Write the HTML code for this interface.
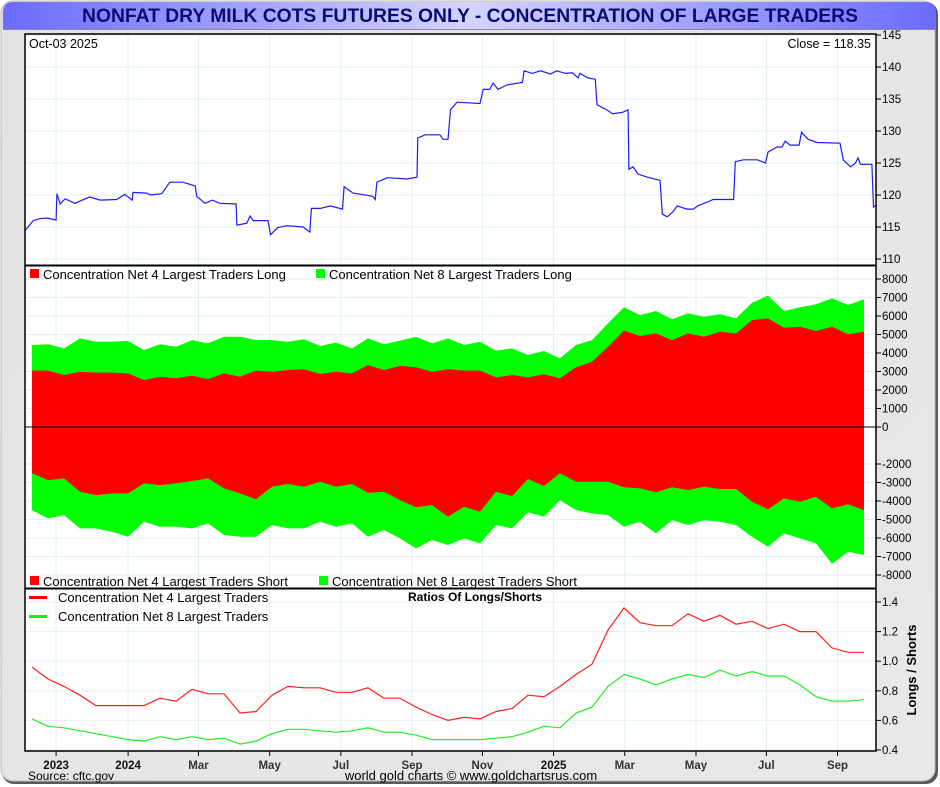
<!DOCTYPE html>
<html><head><meta charset="utf-8"><style>
html,body{margin:0;padding:0;background:#fff;}
svg{display:block;font-family:"Liberation Sans",sans-serif;}
</style></head><body>
<svg id="chart" width="940" height="787" viewBox="0 0 940 787" xmlns="http://www.w3.org/2000/svg">
<defs>
<linearGradient id="tg" x1="0" x2="1" y1="0" y2="0">
<stop offset="0" stop-color="#6b6bff"/><stop offset="0.5" stop-color="#d4d4ff"/><stop offset="1" stop-color="#6b6bff"/>
</linearGradient>
<linearGradient id="bg" x1="0" x2="1" y1="0" y2="1">
<stop offset="0" stop-color="#e2e2e2"/><stop offset="1" stop-color="#e8e8e8"/>
</linearGradient>
</defs>
<rect x="2" y="2" width="936" height="782" rx="12" fill="#5a5a5a"/>
<rect x="1" y="1" width="934" height="780" rx="12" fill="url(#bg)" stroke="#bbb"/>
<path d="M13 2 H925 Q936 2 936 13 V29 H3 V13 Q3 2 13 2 Z" fill="url(#tg)"/>
<line x1="3" y1="29.5" x2="936" y2="29.5" stroke="#8888aa"/>
<text x="470" y="22" text-anchor="middle" font-size="19.3" font-weight="bold" fill="#0c0c6e">NONFAT DRY MILK COTS FUTURES ONLY - CONCENTRATION OF LARGE TRADERS</text>
<rect x="25" y="34" width="851" height="717" fill="#fff"/>
<g id="grid"></g>
<g id="p2"></g>
<g id="p1"></g>
<g id="p3"></g>
<g id="axes"></g>
<text x="29" y="48" font-size="12.5" fill="#000">Oct-03  2025</text>
<text x="871" y="48" font-size="12.5" text-anchor="end" fill="#000">Close = 118.35</text>
<rect x="30" y="269" width="9" height="9" fill="#f00"/>
<text x="43" y="279" font-size="13">Concentration Net 4 Largest Traders Long</text>
<rect x="316" y="269" width="9" height="9" fill="#0f0"/>
<text x="329" y="279" font-size="13">Concentration Net 8 Largest Traders Long</text>
<rect x="30" y="576" width="9" height="9" fill="#f00"/>
<text x="43" y="586" font-size="13">Concentration Net 4 Largest Traders Short</text>
<rect x="319" y="576" width="9" height="9" fill="#0f0"/>
<text x="332" y="586" font-size="13">Concentration Net 8 Largest Traders Short</text>
<rect x="29" y="596" width="18" height="3" fill="#f00"/>
<text x="58" y="602" font-size="13">Concentration Net 4 Largest Traders</text>
<rect x="29" y="615" width="18" height="3" fill="#0f0"/>
<text x="58" y="621" font-size="13">Concentration Net 8 Largest Traders</text>
<text x="475" y="601" font-size="12" font-weight="bold" text-anchor="middle">Ratios Of Longs/Shorts</text>
<text transform="translate(916,670) rotate(-90)" font-size="13" font-weight="bold" text-anchor="middle">Longs / Shorts</text>
<text x="28" y="780" font-size="12">Source: cftc.gov</text>
<text x="471" y="780" font-size="13" text-anchor="middle">world gold charts © www.goldchartsrus.com</text>
</svg>
<script>
const priceWeeks=[0,1.0,1.8,2.7,3.8,3.9,4.3,4.9,6.1,7.9,9.2,11.2,12.2,13.1,13.2,14.9,15.3,16.7,17.7,19.3,20.8,21.0,22.0,22.9,23.8,25.8,25.9,27.1,27.5,27.9,29.7,30.0,30.9,32.0,34.0,34.8,35.0,36.1,37.3,38.8,39.0,40.1,42.5,42.8,43.0,44.3,46.7,47.9,48.0,48.9,50.7,51.1,51.7,52.0,52.8,55.6,56.0,56.8,57.2,57.8,58.9,60.8,61.0,62.0,63.0,64.2,65.0,66.0,66.9,67.6,67.8,68.8,69.7,69.9,71.1,71.8,73.0,73.7,73.8,74.3,74.9,76.0,77.6,77.9,78.5,79.2,79.7,80.9,81.7,82.2,83.4,84.1,86.6,86.8,87.8,89.5,90.5,90.8,91.9,92.5,92.9,93.5,94.6,94.9,95.7,96.8,99.6,100.0,100.9,101.5,101.8,102.1,103.5,103.7,103.9];
const priceValues=[114.4,116.0,116.3,116.4,116.1,120.2,118.6,119.4,118.7,119.7,119.2,119.3,120.1,119.2,120.4,120.3,120.0,120.2,122.0,122.0,121.4,119.8,118.7,119.2,118.7,118.6,115.3,115.6,116.7,116.0,116.0,113.8,114.9,115.2,115.0,114.2,117.9,117.9,118.3,117.8,121.3,120.3,119.8,119.3,122.0,122.7,122.5,122.8,128.9,129.4,129.4,128.7,128.7,133.3,134.5,134.3,136.5,136.5,137.5,136.5,137.2,137.6,139.4,139.0,139.4,138.9,139.4,139.0,139.1,138.3,139.0,138.3,138.1,134.1,133.3,132.7,132.9,133.3,124.0,124.4,123.3,122.8,122.3,117.0,116.6,117.4,118.3,117.8,117.8,118.3,118.9,119.3,119.3,125.2,125.5,125.5,125.0,126.7,127.5,127.5,128.4,127.8,127.8,129.8,128.7,128.2,128.1,125.5,124.4,125.0,125.8,124.8,124.8,118.1,118.35];
const long4=[3050,3050,2810,2990,2940,2940,2900,2540,2720,2630,2780,2590,2900,2720,3050,2990,3080,3120,2870,2990,2900,3350,3080,3300,3230,2990,3120,3050,3050,2680,2810,2680,2850,2630,3230,3530,4340,5210,4920,5060,4700,5060,4880,5150,5060,5780,5870,5370,5420,5190,5420,5010,5150];
const long8=[4430,4470,4250,4790,4610,4610,4650,4160,4470,4340,4700,4520,4880,4880,4700,4700,4610,4740,4380,4560,4250,4790,4470,4670,4880,4520,4790,4430,4610,4130,4250,3890,4110,3710,4430,4700,5600,6470,6050,6270,5820,6140,5960,6090,5870,6720,7100,6270,6470,6630,6960,6600,6900];
const short4=[-2500,-2870,-2780,-3500,-3680,-3590,-3590,-3050,-3140,-3050,-2920,-2780,-3320,-3590,-3910,-3230,-3080,-3230,-2960,-3230,-3080,-3550,-3500,-3950,-4340,-4220,-4850,-4310,-4580,-3500,-3730,-2810,-3190,-2500,-2960,-2960,-2960,-3260,-3320,-3530,-3260,-3410,-3230,-3350,-3350,-4040,-4450,-3860,-4040,-3770,-4400,-4180,-4490];
const short8=[-4490,-4940,-4760,-5480,-5480,-5660,-5930,-5120,-5390,-5390,-5480,-5210,-5840,-5930,-5930,-5300,-5480,-5480,-5120,-5390,-5210,-5930,-5570,-6020,-6560,-6110,-6380,-6020,-6290,-5300,-5480,-4610,-4850,-3950,-4490,-4670,-4760,-5390,-5120,-5750,-5030,-5300,-5030,-5120,-5300,-5930,-6470,-5750,-6020,-6290,-7400,-6740,-6920];
const ratio4=[0.96,0.88,0.83,0.77,0.70,0.70,0.70,0.70,0.75,0.73,0.81,0.78,0.78,0.65,0.66,0.77,0.83,0.82,0.82,0.79,0.79,0.82,0.75,0.75,0.69,0.64,0.60,0.62,0.61,0.66,0.68,0.77,0.76,0.83,0.91,0.98,1.21,1.36,1.26,1.24,1.24,1.32,1.27,1.31,1.25,1.27,1.22,1.25,1.20,1.20,1.09,1.06,1.06];
const ratio8=[0.61,0.56,0.55,0.53,0.51,0.49,0.47,0.46,0.49,0.47,0.49,0.47,0.48,0.44,0.46,0.51,0.54,0.54,0.53,0.52,0.53,0.55,0.52,0.52,0.50,0.47,0.47,0.47,0.47,0.48,0.49,0.52,0.56,0.55,0.65,0.69,0.83,0.91,0.88,0.84,0.88,0.91,0.89,0.94,0.90,0.93,0.90,0.90,0.84,0.76,0.73,0.73,0.74];
const xTickLabels=["2023","2024","Mar","May","Jul","Sep","Nov","2025","Mar","May","Jul","Sep"];
const xTickWeeks=[3.8,12.6,21.2,29.9,38.6,47.3,55.9,64.6,73.3,82.0,90.6,99.3];
const priceTicks=[145,140,135,130,125,120,115,110];
const cotTicks=[8000,7000,6000,5000,4000,3000,2000,1000,0,-2000,-3000,-4000,-5000,-6000,-7000,-8000];
const ratioTicks=[1.4,1.2,1.0,0.8,0.6,0.4];

const NS="http://www.w3.org/2000/svg";
function mk(parent,tag,attrs){const e=document.createElementNS(NS,tag);for(const k in attrs)e.setAttribute(k,attrs[k]);document.getElementById(parent).appendChild(e);return e;}
const L=25,R=876;
const xW=w=>L+w*(R-L)/104;
const xC=i=>32+i*(864-32)/(long4.length-1);
const yP=v=>35+(145-v)*6.4;
const yC=v=>427-v*0.0185;
const yR=v=>750-(v-0.4)*148;

xTickWeeks.forEach((w,i)=>{
  const x=xW(w);
  const g=mk('grid','line',{x1:x,x2:x,y1:34,y2:751,stroke:'#e3eef8','stroke-width':1});
  
  
  const t=mk('axes','line',{x1:x,x2:x,y1:751,y2:756,stroke:'#000'});
  
  
  const lb=mk('axes','text',{x:x,y:769,'font-size':11.5,'font-weight':'bold','text-anchor':'middle',fill:/^\d/.test(xTickLabels[i])?'#111':'#333'});
  lb.textContent=xTickLabels[i];
  
  
});
function yAxis(ticks,f,fmt,name){
  ticks.forEach(v=>{
    const y=f(v);
    const g=mk('grid','line',{x1:L,x2:R,y1:y,y2:y,stroke:'#e3eef8'});
    
    
    const t=mk('axes','line',{x1:R,x2:R+5,y1:y,y2:y,stroke:'#000'});
    
    
    const lb=mk('axes','text',{x:R+6,y:y+4,'font-size':11.5,fill:'#000'});
    lb.textContent=fmt(v);
    
    
  });
}
yAxis(priceTicks,yP,v=>String(v),'price');
yAxis(cotTicks,yC,v=>String(v),'cot');
yAxis(ratioTicks,yR,v=>v.toFixed(1),'ratio');

function area(vals,color,name){
  let d='M'+xC(0)+' '+yC(0);
  vals.forEach((v,i)=>{d+=' L'+xC(i).toFixed(1)+' '+yC(v).toFixed(1);});
  d+=' L'+xC(vals.length-1)+' '+yC(0)+' Z';
  const p=mk('p2','path',{d:d,fill:color});
  
  
}
area(long8,'#00ff00','area-8-long');
area(short8,'#00ff00','area-8-short');
area(long4,'#ff0000','area-4-long');
area(short4,'#ff0000','area-4-short');
const z=mk('p2','line',{x1:L,x2:R,y1:yC(0),y2:yC(0),stroke:'#000','stroke-width':1});



const pp=mk('p1','polyline',{points:priceWeeks.map((w,i)=>xW(w).toFixed(1)+','+yP(priceValues[i]).toFixed(1)).join(' '),fill:'none',stroke:'#1a1aff','stroke-width':1.2});



function rline(vals,color,name){
  const p=mk('p3','polyline',{points:vals.map((v,i)=>xC(i).toFixed(1)+','+yR(v).toFixed(1)).join(' '),fill:'none',stroke:color,'stroke-width':1.2});
  
  
}
rline(ratio4,'#ff2020','ratio-4-line');
rline(ratio8,'#20ee20','ratio-8-line');

const b=mk('axes','rect',{x:L,y:34,width:R-L,height:717,fill:'none',stroke:'#000','stroke-width':1.5});


[265.5,588.5].forEach(y=>{
  const s=mk('axes','line',{x1:L,x2:R,y1:y,y2:y,stroke:'#000','stroke-width':2});
  
  
});
</script>
</body></html>
